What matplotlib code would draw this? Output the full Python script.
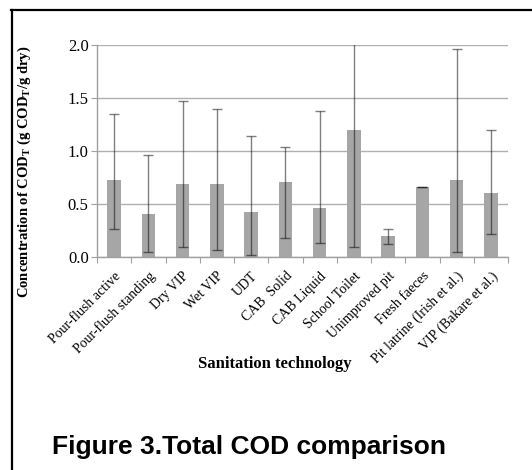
import matplotlib
matplotlib.use("Agg")
import matplotlib.pyplot as plt
from matplotlib.lines import Line2D
import numpy as np

# -------------------- data --------------------
categories = ["Pour-flush active", "Pour-flush standing", "Dry VIP", "Wet VIP", "UDT",
              "CAB  Solid", "CAB Liquid", "School Toilet", "Unimproved pit", "Fresh faeces",
              "Pit latrine (Irish et al.)", "VIP (Bakare et al.)"]
values = [0.73, 0.41, 0.69, 0.69, 0.42, 0.71, 0.46, 1.20, 0.20, 0.66, 0.73, 0.60]
err_low = [0.26, 0.05, 0.09, 0.07, 0.02, 0.18, 0.13, 0.09, 0.12, 0.66, 0.05, 0.22]
err_high = [1.35, 0.96, 1.47, 1.40, 1.14, 1.04, 1.38, 2.30, 0.26, 0.66, 1.96, 1.20]
yticks = [0.0, 0.5, 1.0, 1.5, 2.0]

plt.rcParams['mathtext.fontset'] = 'custom'
plt.rcParams['mathtext.rm'] = 'Liberation Serif:bold'
plt.rcParams['mathtext.bf'] = 'Liberation Serif:bold'

fig = plt.figure(figsize=(5.32, 4.70), dpi=100)
ax = fig.add_axes([97 / 532, 1 - 257 / 470, 411 / 532, 212 / 470])

x = np.arange(len(categories))
vals = np.array(values)
yerr = np.vstack([vals - np.array(err_low), np.array(err_high) - vals])

ax.bar(x, vals, width=0.4, color='#a6a6a6', zorder=2)
eb = ax.errorbar(x, vals, yerr=yerr, fmt='none', ecolor=(0, 0, 0, 0.5),
                 elinewidth=1.0, capsize=3.5, capthick=1.0, zorder=3)
for cap in eb[1]:
    cap.set_color('#222222')

ax.set_ylim(0, 2.0)
ax.set_xlim(-0.5, len(categories) - 0.5)
ax.set_yticks(yticks)
ax.set_yticklabels([f"{t:.1f}" for t in yticks], fontfamily='Liberation Serif', fontsize=12)
ax.yaxis.grid(True, color='#b0b0b0', linewidth=1.0, zorder=0)
ax.set_axisbelow(True)

# category boundaries get tick marks, labels sit under the bars
ax.set_xticks(np.arange(-0.5, len(categories), 1.0))
ax.set_xticklabels([])
ax.set_xticks(x, minor=True)
ax.set_xticklabels(categories, minor=True, rotation=45, ha='right', rotation_mode='anchor',
                   fontfamily='Liberation Serif', fontsize=10)
ax.tick_params(axis='x', which='minor', length=0, pad=9)
ax.tick_params(axis='x', which='major', length=4, color='#a0a0a0', direction='out')
ax.tick_params(axis='y', length=4, color='#a0a0a0', direction='out', pad=2)

for s in ['top', 'right']:
    ax.spines[s].set_visible(False)
for s in ['left', 'bottom']:
    ax.spines[s].set_color('#a0a0a0')
    ax.spines[s].set_linewidth(1.0)

fig.text(24 / 532, 1 - 172 / 470,
         r'Concentration of COD$_\mathregular{T}$ (g COD$_\mathregular{T}$/g dry)',
         rotation=90, ha='center', va='center',
         fontfamily='Liberation Serif', fontweight='bold', fontsize=10.5)
fig.text(275 / 532, 1 - 364 / 470, 'Sanitation technology', ha='center', va='center',
         fontfamily='Liberation Serif', fontweight='bold', fontsize=12)

fig.text(249 / 532, 1 - 447 / 470, 'Figure 3.Total COD comparison', ha='center', va='center',
         fontfamily='Liberation Sans', fontweight='bold', fontsize=19)

# page frame (top and left edges only)
fig.add_artist(Line2D([11 / 532, 1], [1 - 10 / 470, 1 - 10 / 470], color='black', linewidth=1.6))
fig.add_artist(Line2D([12 / 532, 12 / 532], [0, 1 - 10 / 470], color='black', linewidth=1.6))

fig.savefig('out.png', dpi=100, facecolor='white')
